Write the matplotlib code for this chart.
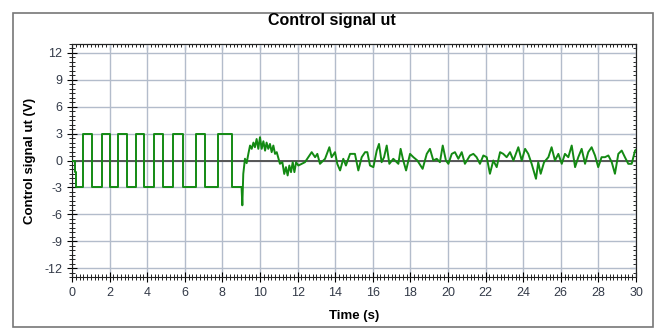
import numpy as np
import matplotlib.pyplot as plt
from matplotlib.patches import Rectangle
from matplotlib.ticker import MultipleLocator

plt.rcParams['font.family'] = ['Liberation Sans', 'DejaVu Sans']
plt.rcParams['axes.unicode_minus'] = False

# square-wave excitation, switch times and levels (steps-post)
sq_t = [0.0, 0.15, 0.21, 0.57, 1.05, 1.58, 2.02, 2.43, 2.91, 3.40, 3.83,
        4.38, 4.82, 5.39, 5.89, 6.60, 7.07, 7.78, 8.49, 9.02]
sq_v = [0.0, -1.3, -3.0, 3.0, -3.0, 3.0, -3.0, 3.0, -3.0, 3.0, -3.0,
        3.0, -3.0, 3.0, -3.0, 3.0, -3.0, 3.0, -3.0, -3.0]

# closed-loop part of the signal
cl_t = [9.02, 9.06, 9.11, 9.20, 9.29, 9.38, 9.47, 9.56, 9.65, 9.73, 9.82,
        9.91, 10.00, 10.09, 10.18, 10.27, 10.35, 10.44, 10.53, 10.62, 10.71,
        10.80, 10.89, 11.06, 11.19, 11.29, 11.38, 11.47, 11.56, 11.65, 11.74,
        11.83, 11.92, 12.04, 12.22, 12.39, 12.57, 12.75, 12.93, 13.05, 13.19,
        13.46, 13.69, 13.81, 13.99, 14.11, 14.26, 14.43, 14.57, 14.79, 15.05,
        15.23, 15.41, 15.59, 15.71, 15.85, 16.03, 16.21, 16.33, 16.47, 16.60,
        16.74, 16.88, 17.09, 17.36, 17.48, 17.62, 17.77, 17.98, 18.16, 18.37,
        18.65, 18.87, 19.04, 19.22, 19.40, 19.57, 19.72, 19.89, 20.02, 20.20,
        20.37, 20.55, 20.73, 20.90, 21.17, 21.35, 21.52, 21.70, 21.88, 22.06,
        22.23, 22.41, 22.59, 22.77, 22.94, 23.12, 23.30, 23.48, 23.74, 23.92,
        24.10, 24.27, 24.45, 24.68, 24.80, 24.93, 25.11, 25.34, 25.51, 25.69,
        25.87, 26.05, 26.22, 26.40, 26.58, 26.76, 26.93, 27.11, 27.29, 27.46,
        27.64, 27.82, 27.99, 28.17, 28.35, 28.53, 28.71, 28.88, 29.06, 29.24,
        29.41, 29.59, 29.77, 29.95, 30.0]
cl_v = [-3.0, -5.0, -1.5, 0.2, -0.3, 0.74, 1.67, 1.3, 2.0, 1.48, 2.4,
        1.3, 2.6, 1.3, 2.15, 1.1, 2.0, 1.3, 1.85, 0.93, 1.67,
        0.74, 0.93, -0.37, -0.19, -1.5, -0.74, -1.67, -0.56, -1.3, -0.19,
        -1.3, -0.19, -0.56, -0.37, -0.19, 0.37, 0.93, 0.37, 0.74, -0.37,
        0.19, 1.48, 0.37, 0.93, -0.37, -1.11, 0.19, -0.56, 0.74, 0.74,
        -1.11, 0.37, 0.93, 0.93, -0.56, -0.74, 1.11, 1.85, -0.19, 0.37,
        1.67, -0.37, 0.19, -0.37, 1.30, 0.0, -1.11, 0.74, 0.37, 0.0,
        -0.93, 0.74, 1.30, 0.0, 0.19, -0.19, 1.67, 0.0, -0.37, 0.74,
        0.93, 0.19, 0.93, -0.37, 0.56, 0.74, 0.37, -0.37, 0.56, 0.37,
        -1.48, 0.0, -0.74, 0.93, 0.74, 0.37, 0.93, 0.0, 1.48, 0.0,
        1.30, 0.74, -0.37, -2.04, -0.19, -1.48, -0.19, 0.37, 1.48, 0.0,
        0.74, -0.37, 0.74, 0.37, 1.67, -0.74, 0.37, 1.30, -0.37, 0.93,
        1.48, 0.56, -0.74, 0.37, 0.37, 0.56, -0.19, -1.48, 0.74, 1.11,
        0.37, -0.37, -0.37, 1.11, 1.2]

xticks = np.arange(0, 31, 2)
yticks = np.arange(-12, 13, 3)

green = '#138a13'
fig = plt.figure(figsize=(6.58, 3.29), dpi=100)
ax = fig.add_axes([72/658, 1-277/329, 564/658, 233/329])

ax.plot(sq_t, sq_v, color=green, lw=1.4, drawstyle='steps-post', zorder=3)
ax.plot(cl_t, cl_v, color=green, lw=1.4, zorder=3)
ax.axhline(0, color='#555555', lw=1.4, zorder=2)

ax.set_xlim(0, 30)
ax.set_ylim(-13, 13)
ax.set_xticks(xticks)
ax.set_yticks(yticks)
ax.xaxis.set_minor_locator(MultipleLocator(0.2))
ax.yaxis.set_minor_locator(MultipleLocator(0.5))
ax.grid(True, which='major', color='#b3bccb', lw=1.0, zorder=1)
ax.tick_params(which='major', direction='inout', length=7, width=0.8,
               labelsize=9, labelcolor='#333a48', top=False, right=False)
ax.tick_params(which='minor', direction='inout', length=4, width=0.6,
               top=False, right=False)
for s in ax.spines.values():
    s.set_color('#222222')
    s.set_linewidth(0.8)

sec_x = ax.secondary_xaxis('top')
sec_x.set_xticks(xticks)
sec_x.xaxis.set_minor_locator(MultipleLocator(0.2))
sec_x.tick_params(which='both', direction='in', labeltop=False)
sec_x.tick_params(which='major', length=4)
sec_x.tick_params(which='minor', length=2.5)
sec_y = ax.secondary_yaxis('right')
sec_y.set_yticks(yticks)
sec_y.yaxis.set_minor_locator(MultipleLocator(0.5))
sec_y.tick_params(which='both', direction='in', labelright=False)
sec_y.tick_params(which='major', length=4)
sec_y.tick_params(which='minor', length=2.5)

ax.set_xlabel('Time (s)', fontsize=9.5, fontweight='bold', labelpad=8)
ax.set_ylabel('Control signal ut (V)', fontsize=9.5, fontweight='bold', labelpad=6)
fig.text(0.505, 1-20/329, 'Control signal ut', ha='center', va='center',
         fontsize=11.5, fontweight='bold')

fig.patches.append(Rectangle((13/658, 2/329), 640/658, 314/329,
                             transform=fig.transFigure, fill=False,
                             edgecolor='#777777', lw=1.2))

fig.savefig('out.png', dpi=100)
